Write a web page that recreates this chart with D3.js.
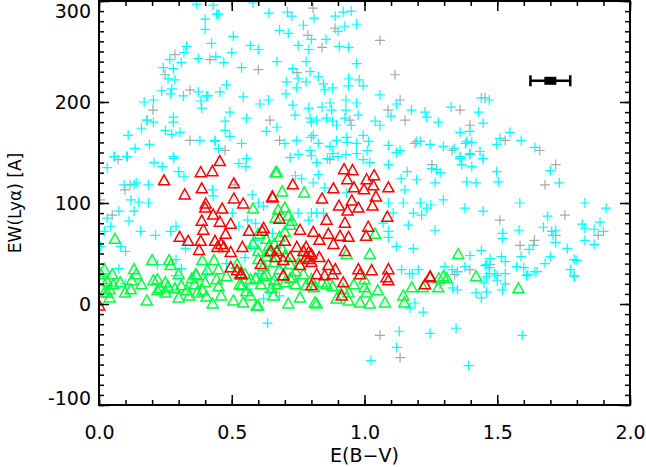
<!DOCTYPE html>
<html>
<head>
<meta charset="utf-8">
<script src="https://cdn.jsdelivr.net/npm/d3@7"></script>
<style>
  body { margin: 0; background: #fff; }
  svg text { font-family: "DejaVu Sans", sans-serif; fill: #000; }
</style>
</head>
<body>
<div id="chart"></div>
<script>
/* ===== Data: [E(B-V), EW(Lya)] ===== */

const grayPts = [
  [0.806,293],[0.787,266],[0.889,273],[0.84,254],[0.746,229],[0.60,232],[0.418,242],
  [0.249,227],[0.286,247],[0.343,212],[0.181,182],[0.203,192],[0.072,143],[0.117,118],
  [0.098,113],[0.004,103],[0.05,88],[0.512,118],[0.475,152],[0.343,162],[1.134,202],
  [1.089,192],[1.153,182],[1.19,159],[1.115,227],[1.058,261],[1.36,192],[1.454,204],
  [1.397,177],[1.33,152],[1.254,138],[1.53,162],[1.66,152],[1.72,138],[1.68,118],
  [1.755,88],[1.72,68],[1.64,63],[1.586,58],[1.51,83],[1.473,39],[1.397,34],[1.34,29],
  [1.284,19],[1.134,-53],[1.058,-31],[1.88,68],[0.87,143],[0.945,182],[0.68,162],[0.644,182]
];

const cyanPts = [
  // upper left
  [0.368,297],[0.43,296],[0.443,287],[0.40,282],[0.40,272],[0.424,258],[0.44,245],
  [0.33,255],[0.32,249],[0.374,243],[0.267,242],[0.28,233],[0.242,234],[0.31,239],
  [0.26,223],[0.286,222],[0.236,211],[0.274,213],[0.27,208],[0.318,206],[0.374,210],
  [0.384,201],[0.405,206],[0.387,194],[0.205,202],[0.17,200],[0.18,182],[0.205,180],
  [0.28,185],[0.28,180],[0.16,174],[0.11,167],[0.25,172],[0.274,168],[0.305,170],
  [0.136,154],[0.19,158],[0.38,162],[0.437,161],[0.06,146],[0.104,146],[0.28,146],
  // upper middle
  [0.45,287],[0.58,298],[0.64,288],[0.71,289],[0.726,285],[0.81,283],[0.89,285],
  [0.92,289],[0.95,290],[0.97,277],[0.926,275],[0.90,270],[0.77,276],[0.506,265],
  [0.68,271],[0.713,268],[0.80,262],[0.855,262],[0.905,255],[0.94,254],[0.75,256],
  [0.79,252],[0.57,256],[0.60,252],[0.50,249],[0.47,239],[0.537,234],[0.67,240],
  [0.78,240],[0.795,230],[0.73,233],[0.97,238],[0.826,225],[0.75,223],[0.707,220],
  [0.78,220],[0.845,218],[0.94,223],[0.98,222],[0.995,216],[0.94,216],[0.88,214],
  [0.745,214],[0.704,208],[0.85,212],[0.48,217],[0.456,210],[0.41,206],[0.543,205],
  [0.638,202],[0.606,198],[0.73,197],[0.79,194],[0.84,195],[0.87,199],[0.876,192],
  [0.93,202],[0.97,199],[0.93,192],[1.058,207],[1.12,198],[1.177,192],[0.493,190],
  [0.556,184],[0.475,181],[0.738,187],[0.795,184],[0.80,180],[0.82,182],[0.857,184],
  [0.88,181],[0.895,177],[0.926,184],[0.95,177],[0.976,187],[1.04,181],[1.058,177],
  [1.10,186],[0.475,172],[0.63,171],[0.67,175],[0.493,166],[0.437,162],[0.537,159],
  [0.70,159],[0.745,162],[0.807,167],[0.80,165],[0.826,159],[0.87,156],[0.895,162],
  [0.933,165],[0.935,160],[0.97,159],[0.995,167],[1.015,161],[1.09,157],[1.134,152],
  [1.197,161],[0.45,154],[0.75,148],[0.795,152],[0.88,149],[0.90,146],[0.93,148],
  [0.97,149],[1.01,152],[0.556,144],
  // upper right
  [1.228,190],[1.234,185],[1.326,195],[1.44,204],[1.47,202],[1.43,190],[1.278,180],
  [1.447,179],[1.36,170],[1.397,171],[1.385,161],[1.38,159],[1.404,160],[1.21,161],
  [1.247,158],[1.297,156],[1.338,154],[1.435,151],[1.397,149],[1.36,146],[1.447,144],
  [1.498,158],[1.51,164],[1.548,170],[1.59,162],[1.642,155],
  // middle left
  [0.056,146],[0.107,146],[0.282,144],[0.207,140],[0.238,136],[0.031,135],[0.30,131],
  [0.32,126],[0.527,139],[0.553,136],[0.094,118],[0.132,118],[0.14,120],[0.186,118],
  [0.12,103],[0.15,101],[0.186,100],[0.075,92],[0.132,92],[0.031,85],[0.113,82],
  [0.044,77],[0.02,72],[0.157,72],[0.27,72],[0.29,77],[0.213,68],[0.006,57],[0.082,57],
  [0.10,52],[0.326,55],[0.427,113],[0.43,107],[0.577,108],[0.60,100],[0.62,97],
  [0.502,90],[0.527,77],[0.56,83],[0.59,80],[0.653,70],[0.57,57],[0.59,63],[0.29,44],
  [0.22,39],[0.31,35],[0.075,35],[0.48,40],[0.55,46],
  // middle centre
  [1.272,133],[1.285,130],[1.253,134],[1.161,131],[1.196,123],[1.266,120],[1.138,124],
  [1.152,113],[1.297,103],[1.146,100],[1.21,100],[1.234,95],[1.25,98],[1.184,90],
  [1.215,88],[1.108,90],[1.165,78],[1.266,73],[1.09,72],[1.09,66],[1.12,57],[1.184,55],
  [1.303,37],[1.203,34],[1.14,34],[1.18,30],[0.763,124],[0.74,127],[0.826,128],
  [0.807,120],[0.85,115],[0.845,90],[0.80,90],[0.82,90],[0.75,90],[0.79,83],[1.09,100],
  [1.07,80],[0.933,110],[0.72,145],[0.80,147],[0.82,140],[0.86,144],[0.995,143],
  [1.02,140],[1.09,138],[1.12,150],
  // middle right
  [1.36,144],[1.397,148],[1.447,144],[1.366,138],[1.404,136],[1.498,131],[1.385,121],
  [1.42,120],[1.504,121],[1.70,132],[1.734,120],[1.378,95],[1.447,92],[1.585,100],
  [1.83,100],[1.91,95],[1.69,87],[1.52,70],[1.52,65],[1.582,73],[1.674,76],[1.705,72],
  [1.72,73],[1.71,68],[1.82,79],[1.83,75],[1.887,81],[1.865,74],[1.90,72],[1.83,63],
  [1.865,59],[1.72,61],[1.636,58],[1.62,54],[1.764,55],[1.44,53],[1.397,48],[1.516,47],
  [1.59,47],[1.70,47],[1.473,45],[1.68,40],[1.79,44],[1.80,43],[1.53,42],[1.46,39],
  [1.455,38],[1.378,37],[1.47,36],[1.33,34],[1.35,32],[1.573,37],[1.60,36],[1.642,32],
  [1.775,34],[1.79,28],[1.61,28],[1.47,30],[1.46,27],[1.50,28],
  // lower
  [0.098,20],[0.29,28],[0.405,30],[0.0,-1],[0.635,-19],[1.131,-27],[1.121,-43],
  [1.024,-56],[1.247,-29],[1.221,-8],[1.171,-4],[1.19,1],[1.17,30],[0.64,12],[0.885,30],
  [1.345,-24],[1.594,-31],[1.392,-61],[1.332,16],[1.35,14],[1.42,11],[1.44,6],[1.46,12],
  [1.45,21],[1.50,23],[1.53,30],[1.53,20],[1.52,14],[1.615,29],[1.65,32],[1.79,27],
  [1.49,30],[1.35,32],[0.60,30],[0.66,20],[0.70,35],[0.56,15],[0.62,5],[0.68,8]
];

const greenPts = [
  [0.06,65],[0.665,131],[0.58,95],[0.665,86],[0.389,44],[0.433,44],[0.20,44],[0.264,44],
  [0.27,39],[0.132,35],[0.02,35],[0.60,53],[0.64,58],[0.63,48],[0.364,30],[0.408,34],
  [0.53,30],
  [0.67,131],[0.69,112],[0.773,111],[0.70,96],[0.713,88],[0.726,83],[0.675,94],[0.72,79],
  [1.04,70],[1.02,50],[0.933,50],[1.297,28],[0.68,67],[0.70,72],
  [1.353,50],[1.42,28],[1.58,16],[1.31,26],
  [0.01,25],[0.03,23],[0.054,20],[0.04,15],[0.03,12],[0.04,7],[0.098,12],[0.123,24],
  [0.14,30],[0.18,4],[0.205,24],[0.23,16],[0.22,14],[0.25,22],[0.25,12],[0.286,16],
  [0.30,7],[0.31,19],[0.33,14],[0.34,9],[0.36,20],[0.37,12],[0.368,29],[0.39,14],
  [0.405,8],[0.428,1],[0.443,25],[0.45,18],[0.46,9],[0.506,4],[0.537,19],[0.543,2],
  [0.555,13],[0.57,9],[0.594,-1],[0.53,20],[0.59,26],[0.007,30],
  [0.60,-1],[0.657,9],[0.713,1],[0.757,7],[0.813,2],[0.82,1],[0.78,19],[0.81,17],
  [0.857,20],[0.895,6],[0.94,4],[0.983,2],[1.02,1],[1.008,12],[1.05,14],[1.077,2],
  [1.146,9],[1.15,2],[1.178,17],[1.22,17],[1.278,17],[1.28,26],[1.0,17],[0.94,12],
  [0.67,20],[0.61,20],[0.65,16],[0.74,20],[0.72,26],[0.59,26],[0.63,30],
  [0.58,60],[0.60,45],[0.62,38],[0.64,52],[0.66,42],[0.68,35],[0.70,48],[0.72,40],
  [0.74,33],[0.76,45],[0.55,30],[0.57,25],[0.62,28],[0.66,24],[0.70,22],[0.73,27],
  [0.77,30],[0.80,25],[0.84,22],[0.88,18],[0.92,15],[0.96,20],[1.0,25],[0.52,40],
  [0.48,28],[0.45,35],[0.40,22],[0.35,26],[0.30,30],[0.26,18],[0.22,25],[0.16,20],
  [0.12,15],[0.08,22],[0.05,30],[0.02,12],[0.60,70],[0.63,65],[0.66,60],[0.69,55]
];

const redPts = [
  [0.455,142],[0.383,131],[0.427,132],[0.245,123],[0.508,120],[0.387,115],[0.323,109],
  [0.508,105],[0.543,100],[0.653,107],[0.402,100],[0.40,96],[0.464,95],[0.43,89],
  [0.387,83],[0.455,82],[0.496,80],[0.393,74],[0.565,73],[0.62,76],[0.615,73],[0.304,67],
  [0.336,63],[0.383,63],[0.437,63],[0.477,70],[0.377,54],[0.446,57],[0.46,60],[0.47,57],
  [0.496,52],[0.54,57],[0.647,53],[0.665,47],[0.609,40],[0.496,37],[0.534,31],
  [0.923,134],[0.955,133],[0.935,124],[1.036,128],[1.008,124],[0.73,119],[0.883,115],
  [0.96,116],[0.998,114],[1.033,118],[1.09,116],[1.043,107],[0.84,105],[0.952,103],
  [0.904,98],[0.936,93],[0.977,96],[1.03,98],[1.086,87],[0.857,84],[0.926,81],[0.68,85],
  [0.654,106],[0.757,74],[1.014,77],[1.006,68],[0.807,72],[0.864,70],[0.908,68],[0.94,67],
  [0.83,64],[0.883,60],[0.70,63],[0.745,57],[0.67,53],[0.72,47],[0.78,47],[0.80,42],
  [0.83,47],[0.757,39],[0.864,39],[0.89,35],[0.926,53],[0.694,44],[0.977,35],[1.027,34],
  [1.09,35],[0.694,29],[1.247,28],[0.78,57],[0.79,52],[0.77,53],[0.80,50],[0.79,45],
  [0.001,-1],[0.537,30],[0.52,34],[0.694,29],[0.80,19],[0.914,9],[0.92,22],[0.983,30],
  [1.083,27],[1.09,24],[1.228,20],[1.247,27],[0.85,29],[0.88,30],[0.82,30]
];

const errPoint = { x: 1.70, y: 221, xerr: 0.075 };

const xMajor = [0.0, 0.5, 1.0, 1.5, 2.0];
const yMajor = [-100, 0, 100, 200, 300];

/* ===== Layout ===== */

const W = 646, H = 467;
const margin = { top: 1, right: 16, bottom: 62, left: 99 };
const width = W - margin.left - margin.right;
const height = H - margin.top - margin.bottom;

const svg = d3.select("#chart").append("svg")
  .attr("width", W).attr("height", H);

const g = svg.append("g")
  .attr("transform", `translate(${margin.left},${margin.top})`);

const x = d3.scaleLinear().domain([0, 2]).range([0, width]);
const y = d3.scaleLinear().domain([-100, 300]).range([height, 0]);

g.append("clipPath").attr("id", "clip")
  .append("rect").attr("width", width).attr("height", height);

const plot = g.append("g").attr("clip-path", "url(#clip)");

/* ===== Marks ===== */

function crosses(data, color) {
  const s = 5;
  plot.append("g").selectAll("path").data(data).join("path")
    .attr("d", d => {
      const cx = x(d[0]), cy = y(d[1]);
      return `M${cx - s},${cy}H${cx + s}M${cx},${cy - s}V${cy + s}`;
    })
    .attr("stroke", color).attr("stroke-width", 1.2).attr("fill", "none");
}

function triangles(data, color) {
  const hw = 5.5, hh = 5;
  plot.append("g").selectAll("path").data(data).join("path")
    .attr("d", d => {
      const cx = x(d[0]), cy = y(d[1]);
      return `M${cx},${cy - hh}L${cx + hw},${cy + hh}L${cx - hw},${cy + hh}Z`;
    })
    .attr("stroke", color).attr("stroke-width", 1.5).attr("fill", "none");
}

crosses(grayPts, "#a8a8a8");
crosses(cyanPts, "#00ffff");
triangles(greenPts, "#00ff40");
triangles(redPts, "#ff0000");

/* ===== Error bar ===== */

const eb = g.append("g").attr("stroke", "#000").attr("stroke-width", 2.5);
eb.append("line")
  .attr("x1", x(errPoint.x - errPoint.xerr)).attr("x2", x(errPoint.x + errPoint.xerr))
  .attr("y1", y(errPoint.y)).attr("y2", y(errPoint.y));
[errPoint.x - errPoint.xerr, errPoint.x + errPoint.xerr].forEach(v => {
  eb.append("line")
    .attr("x1", x(v)).attr("x2", x(v))
    .attr("y1", y(errPoint.y) - 5.5).attr("y2", y(errPoint.y) + 5.5);
});
g.append("rect")
  .attr("x", x(errPoint.x) - 6).attr("y", y(errPoint.y) - 4)
  .attr("width", 12).attr("height", 8).attr("fill", "#000");

/* ===== Axes ===== */

const xMinor = d3.range(0, 2.0001, 0.1);
const yMinor = d3.range(-100, 300.001, 10);

function styleAxis(sel) {
  sel.select(".domain").remove();
  sel.selectAll("line").attr("stroke", "#000").attr("stroke-width", 1.5);
}

g.append("g").attr("transform", `translate(0,${height})`)
  .call(d3.axisBottom(x).tickValues(xMinor).tickSize(-5).tickFormat("")).call(styleAxis);
g.append("g").attr("transform", `translate(0,${height})`)
  .call(d3.axisBottom(x).tickValues(xMajor).tickSize(-10).tickPadding(21).tickFormat(d3.format(".1f")))
  .call(styleAxis)
  .selectAll("text").attr("font-size", 19);

g.append("g")
  .call(d3.axisTop(x).tickValues(xMinor).tickSize(-5).tickFormat("")).call(styleAxis);
g.append("g")
  .call(d3.axisTop(x).tickValues(xMajor).tickSize(-10).tickFormat("")).call(styleAxis);

g.append("g")
  .call(d3.axisLeft(y).tickValues(yMinor).tickSize(-5).tickFormat("")).call(styleAxis);
g.append("g")
  .call(d3.axisLeft(y).tickValues(yMajor).tickSize(-10).tickPadding(8).tickFormat(d3.format("d")))
  .call(styleAxis)
  .selectAll("text").attr("font-size", 19)
  .text(d => d < 0 ? "-" + Math.abs(d) : d)
  // end labels are kept inside the frame, as in the original
  .attr("y", d => d === 300 ? 10 : d === -100 ? -7 : 0);

g.append("g").attr("transform", `translate(${width},0)`)
  .call(d3.axisRight(y).tickValues(yMinor).tickSize(-5).tickFormat("")).call(styleAxis);
g.append("g").attr("transform", `translate(${width},0)`)
  .call(d3.axisRight(y).tickValues(yMajor).tickSize(-10).tickFormat("")).call(styleAxis);

g.append("rect")
  .attr("width", width).attr("height", height)
  .attr("fill", "none").attr("stroke", "#000").attr("stroke-width", 2);

/* ===== Titles ===== */

g.append("text")
  .attr("x", width / 2).attr("y", height + 57)
  .attr("text-anchor", "middle").attr("font-size", 19)
  .text("E(B\u2212V)");

g.append("text")
  .attr("transform", `translate(${-78},${y(100)}) rotate(-90)`)
  .attr("text-anchor", "middle").attr("font-size", 17)
  .text("EW(Ly\u03B1) [A]");
</script>
</body>
</html>
